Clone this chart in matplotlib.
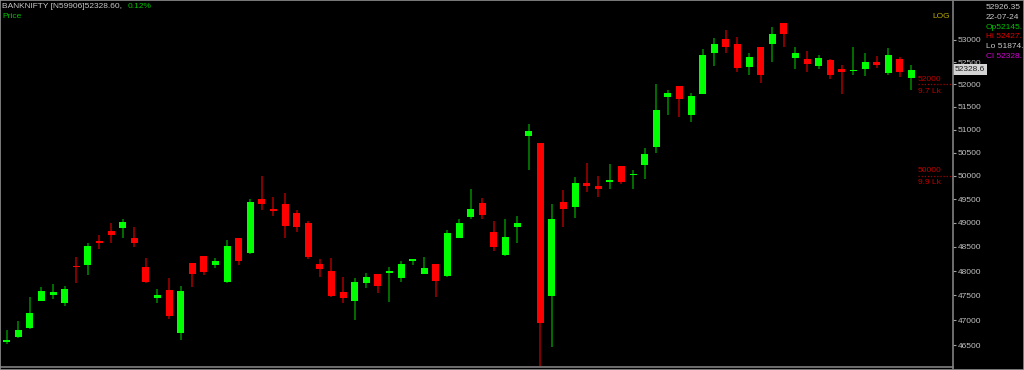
import numpy as np
import matplotlib
matplotlib.use('Agg')
import matplotlib.pyplot as plt
from matplotlib.ticker import FixedLocator, NullLocator, FuncFormatter
from matplotlib.patches import Rectangle
from matplotlib.lines import Line2D

# daily OHLC
opens = [46560, 46660, 46840, 47390, 47500, 47350, 48110, 48115, 48610, 48830,
         48885, 48690, 48085, 47445, 47610, 46745, 48160, 48315, 48130, 47780,
         48685, 48365, 49500, 49285, 49405, 49200, 48990, 48140, 48000, 47560,
         47390, 47760, 47940, 47960, 47850, 48215, 47930, 48140, 47905, 48675,
         49120, 49415, 48810, 48325, 48910, 50865, 50700, 47485, 49440, 49330,
         49840, 49775, 49870, 50210, 50010, 50225, 50630, 51725, 51965, 51315,
         51785, 52700, 53015, 52910, 52385, 52835, 52905, 53380, 52590, 52570,
         52415, 52555, 52355, 52300, 52345, 52505, 52245, 52565, 52145]
highs = [46800, 46980, 47460, 47665, 47725, 47690, 48280, 48575, 48745, 48990,
         49075, 48910, 48275, 47625, 47850, 47690, 48165, 48320, 48260, 48640,
         48690, 49500, 50005, 49555, 49630, 49270, 49040, 48240, 48275, 47880,
         47860, 47950, 47945, 48075, 48205, 48240, 48295, 48145, 48850, 49075,
         49720, 49520, 49040, 49075, 49145, 51135, 50705, 49395, 49700, 49970,
         50280, 50000, 50255, 50215, 50125, 50590, 52010, 51875, 51970, 51815,
         52790, 53040, 53230, 53060, 52700, 52840, 53305, 53385, 52850, 52745,
         52660, 52560, 52435, 52835, 52700, 52645, 52825, 52625, 52427]
lows = [46530, 46650, 46830, 47390, 47425, 47290, 47745, 47910, 48450, 48585,
        48690, 48505, 47745, 47340, 47015, 46600, 47665, 47920, 48055, 47760,
        48115, 48360, 49270, 49145, 48690, 48800, 48240, 47880, 47470, 47340,
        47000, 47645, 47555, 47365, 47780, 48125, 47930, 47475, 47880, 48675,
        49075, 49075, 48420, 48320, 48585, 50125, 46080, 46465, 48920, 49095,
        49650, 49555, 49720, 49825, 49720, 49925, 50485, 51320, 51270, 51175,
        51780, 52415, 52700, 52285, 52210, 52040, 52510, 52850, 52340, 52285,
        52340, 52120, 51785, 52210, 52195, 52375, 52210, 52170, 51874]
closes = [46600, 46800, 47135, 47595, 47560, 47635, 48075, 48515, 48585, 48745,
          49015, 48575, 47780, 47500, 47080, 47595, 47930, 47980, 48205, 48515,
          48210, 49440, 49405, 49245, 48935, 48910, 48295, 48035, 47485, 47440,
          47775, 47870, 47700, 48000, 48145, 48225, 48070, 47795, 48780, 48990,
          49295, 49160, 48505, 48700, 48990, 50970, 46935, 49075, 49300, 49840,
          49790, 49725, 49915, 49870, 50030, 50470, 51435, 51815, 51680, 51740,
          52655, 52910, 52850, 52375, 52625, 52200, 53130, 53135, 52700, 52455,
          52600, 52210, 52285, 52320, 52495, 52430, 52660, 52285, 52328.6]

price_ticks = list(range(46500, 53001, 500))
oi_strikes = [52000, 50000]
oi_labels = ['9.7 Lk', '9.9 Lk']

symbol = 'BANKNIFTY [N59906]52328.60,'
change = '0.12%'
last_price = '52328.6'
info_lines = [('52926.35', '#c8c8c8'), ('22-07-24', '#c8c8c8'),
              ('Op52145.', '#00c000'), ('Hi 52427.', '#e00000'),
              ('Lo 51874.', '#c8c8c8'), ('Cl 52328.', '#d000d0')]

plt.rcParams['font.family'] = ['Liberation Sans', 'DejaVu Sans']

W, H = 1024, 370
fig = plt.figure(figsize=(W / 100, H / 100), dpi=100, facecolor='black')
ax = fig.add_axes([1 / W, (H - 366.7) / H, 952 / W, 366.7 / H])
ax.set_facecolor('black')

o = np.array(opens)
h = np.array(highs)
l = np.array(lows)
c = np.array(closes)
x = np.arange(len(o))
up = c >= o

body_col = np.where(up, '#00ff00', '#ff0000')
wick_col = np.where(up, '#008a00', '#a80000')

ax.vlines(x, l, h, colors=wick_col, linewidth=1.1, zorder=2)
bottom = np.minimum(o, c)
height = np.maximum(np.abs(c - o), 30)
ax.bar(x, height, bottom=bottom, width=0.6, color=body_col, linewidth=0, zorder=3)

ax.set_yscale('log')
ax.set_ylim(46070, 53917)
ax.set_xlim(-0.49, 81.58)
ax.yaxis.set_major_locator(FixedLocator(price_ticks))
ax.yaxis.set_minor_locator(NullLocator())
ax.yaxis.set_major_formatter(FuncFormatter(lambda v, p: f'{int(round(v))}'))
ax.yaxis.tick_right()
ax.tick_params(axis='y', colors='#a0a0a0', labelcolor='#c0c0c0', labelsize=6,
               length=2.5, width=0.8, pad=1)
ax.set_xticks([])
for side in ['top', 'left', 'right']:
    ax.spines[side].set_visible(False)
ax.spines['bottom'].set_color('#808080')
ax.spines['bottom'].set_linewidth(1.2)

# open interest markers
ytr = ax.get_yaxis_transform()
for strike, lab in zip(oi_strikes, oi_labels):
    ax.plot([0.963, 1.0], [strike, strike], transform=ytr,
            color='#a00000', linestyle=(0, (1, 1.5)), linewidth=0.9, clip_on=False)
    ax.annotate(f'{strike}', xy=(0.963, strike), xycoords=ytr,
                xytext=(0, 3.8), textcoords='offset points',
                color='#c00000', fontsize=6, va='center', ha='left')
    ax.annotate(lab, xy=(0.963, strike), xycoords=ytr,
                xytext=(0, -5), textcoords='offset points',
                color='#c00000', fontsize=6, va='center', ha='left')

# current price box
ax.text(1.002, float(last_price), last_price, transform=ytr,
        color='#202020', fontsize=6, va='center', ha='left',
        bbox=dict(boxstyle='square,pad=0.25', facecolor='#d4d4d4', edgecolor='none'),
        zorder=5)

# separator line of the price panel
fig.add_artist(Line2D([953 / W, 953 / W], [0, 1], color='#808080', linewidth=1.2))
fig.add_artist(Rectangle((0, 0), 1, 1, transform=fig.transFigure, fill=False,
                         edgecolor='#909090', linewidth=1.2))

fig.text(2 / W, 1 - 7 / H, symbol, color='#c8c8c8', fontsize=6, va='center', ha='left')
fig.text(128 / W, 1 - 7 / H, change, color='#00c000', fontsize=6, va='center', ha='left')
fig.text(2 / W, 1 - 17 / H, 'Price', color='#00c000', fontsize=6, va='center', ha='left')
fig.text(950 / W, 1 - 16 / H, 'LOG', color='#b8a800', fontsize=6, va='center', ha='right')

for i, (txt, col) in enumerate(info_lines):
    fig.text(985.5 / W, 1 - (7.3 + 9.9 * i) / H, txt, color=col, fontsize=6,
             va='center', ha='left')

fig.savefig('out.png', dpi=100, facecolor='black')
